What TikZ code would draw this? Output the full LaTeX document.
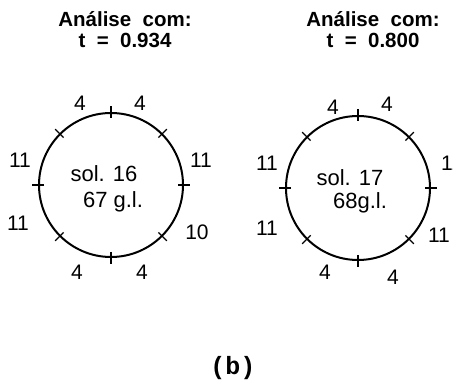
\documentclass[tikz,border=0pt]{standalone}
\usepackage{fontspec}
\setmainfont{Liberation Sans}
\newfontfamily\monob{Liberation Mono}
\begin{document}
\begin{tikzpicture}[x=1pt,y=-1pt,
  ring/.style={circle,draw,line width=2pt,minimum size=144pt,inner sep=0pt},
  title/.style={font=\fontsize{20.5}{20.5}\selectfont\bfseries,inner sep=0pt,align=center},
  num/.style={font=\fontsize{21}{21}\selectfont,inner sep=0pt},
  inside/.style={font=\fontsize{22}{22}\selectfont,inner sep=0pt},
  tick/.style={line width=1.2pt}]
\useasboundingbox (0,0) rectangle (453,382);
% titles
\node[title] (t1a) at (125,19) {Análise\ \ com:};
\node[title] (t1b) at (125,40) {t \ =\ \ 0.934};
\node[title] (t2a) at (373,19) {Análise\ \ com:};
\node[title] (t2b) at (373,40) {t \ =\ \ 0.800};
% circles
\node[ring] (c1) at (111,185) {};
\node[ring] (c2) at (358,188) {};
\foreach \c in {c1,c2}{
  \foreach \a in {0,45,...,315}{
    \draw[tick] ([shift={(\a:-6pt)}]\c.\a) -- ([shift={(\a:6pt)}]\c.\a);
  }
}
% left labels
\node[inside] (s1) at (104,174) {sol. 16};
\node[inside] (g1) at (113,202) {67 g.l.};
\node[num] (l1a) at (80,103) {4};
\node[num] (l1b) at (140,103) {4};
\node[num] (l1c) at (20,160) {11};
\node[num] (l1d) at (201,160) {11};
\node[num] (l1e) at (18,223) {11};
\node[num] (l1f) at (197,232) {10};
\node[num] (l1g) at (77,272) {4};
\node[num] (l1h) at (142,272) {4};
% right labels
\node[inside] (s2) at (350,178) {sol. 17};
\node[inside] (g2) at (360,203) {68g.l.};
\node[num] (l2a) at (333,107) {4};
\node[num] (l2b) at (387,104) {4};
\node[num] (l2c) at (267,163) {11};
\node[num,anchor=west] (l2d) at (441,163) {11};
\node[num] (l2e) at (267,228) {11};
\node[num] (l2f) at (439,235) {11};
\node[num] (l2g) at (325,272) {4};
\node[num] (l2h) at (393,277) {4};
% caption
\node[font=\fontsize{25}{25}\selectfont\monob\bfseries,inner sep=0pt] (cap) at (233,368) {(b)};
\end{tikzpicture}
\end{document}
